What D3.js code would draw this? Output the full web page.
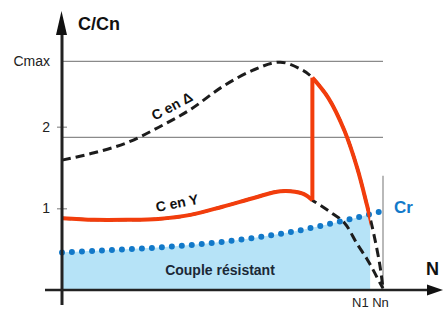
<!DOCTYPE html>
<html>
<head>
<meta charset="utf-8">
<script src="https://cdn.jsdelivr.net/npm/d3@7"></script>
<style>
  body { margin: 0; background: #fff; }
  svg { display: block; font-family: "Liberation Sans", Arial, sans-serif; }
</style>
</head>
<body>
<svg id="chart" width="445" height="311"></svg>
<script>
// speed is N / Nn, torque is C / Cn
const crSpeed = [0, 0.1, 0.2, 0.3, 0.4, 0.5, 0.6, 0.7, 0.8, 0.9, 1.0];
const crValues = [0.46, 0.48, 0.50, 0.52, 0.55, 0.59, 0.64, 0.70, 0.78, 0.87, 0.97];

const motorSpeed = [0, 0.1, 0.2, 0.3, 0.4, 0.5, 0.6, 0.68, 0.75, 0.78, 0.83, 0.88, 0.92, 0.95, 0.97, 0.99, 1.0];
const deltaValues = [1.59, 1.68, 1.80, 1.99, 2.21, 2.49, 2.70, 2.79, 2.69, 2.60, 2.35, 1.95, 1.49, 1.04, 0.71, 0.31, 0.02];
const starValues = [0.88, 0.86, 0.86, 0.87, 0.92, 1.02, 1.13, 1.21, 1.18, 1.10, 0.97, 0.82, 0.56, 0.38, 0.24, 0.09, 0.02];

const switchSpeed = 0.78;   // star -> delta
const n1Speed = 0.96;       // motor torque meets Cr
const cMax = 2.8;
const gridLevels = [cMax, 1.87];
const tickValues = [1, 2, cMax];
const tickLabels = ['1', '2', 'Cmax'];

const svg = d3.select('#chart');
const x = d3.scaleLinear().domain([0, 1]).range([62, 383]);
const y = d3.scaleLinear().domain([0, 3]).range([290, 45]);

const cr = crSpeed.map((s, i) => [s, crValues[i]]);
const delta = motorSpeed.map((s, i) => [s, deltaValues[i]]);
const star = motorSpeed.map((s, i) => [s, starValues[i]]);

const curve = d3.curveCatmullRom.alpha(0.5);
const line = d3.line().x(d => x(d[0])).y(d => y(d[1])).curve(curve);
const area = d3.area().x(d => x(d[0])).y0(y(0)).y1(d => y(d[1])).curve(curve);

svg.append('defs').append('clipPath').attr('id', 'n1clip')
  .append('rect').attr('x', 0).attr('y', 0).attr('width', x(n1Speed)).attr('height', 311);

// resisting torque area
svg.append('path').datum(cr)
  .attr('d', area)
  .attr('fill', '#b6e3f7')
  .attr('clip-path', 'url(#n1clip)');

// grid lines
svg.selectAll('.grid').data(gridLevels).join('line')
  .attr('x1', x(0)).attr('x2', x(1))
  .attr('y1', d => y(d)).attr('y2', d => y(d))
  .attr('stroke', '#8a8a8a').attr('stroke-width', 1.2);

svg.append('line')
  .attr('x1', x(1)).attr('x2', x(1))
  .attr('y1', y(1.4)).attr('y2', y(0))
  .attr('stroke', '#8a8a8a').attr('stroke-width', 1.2);

// y ticks
const yAxis = svg.append('g').attr('transform', `translate(${x(0)},0)`)
  .call(d3.axisLeft(y).tickValues(tickValues)
    .tickFormat((d, i) => tickLabels[i]).tickSize(5).tickPadding(7));
yAxis.select('.domain').remove();
yAxis.selectAll('.tick line').attr('x1', -5).attr('x2', 5).attr('stroke', '#777');
yAxis.selectAll('.tick').filter(d => d === cMax).select('line').remove();
yAxis.selectAll('text').attr('font-size', 14).attr('fill', '#222')
  .attr('font-family', '"Liberation Sans", Arial, sans-serif');

// motor curves (dashed)
const dash = svg.append('g').attr('fill', 'none').attr('stroke', '#1c1c1c')
  .attr('stroke-width', 3).attr('stroke-dasharray', '9,5');
dash.append('path').datum(delta).attr('d', line);
dash.append('path').datum(star).attr('d', line);

// resisting torque Cr (dotted)
svg.append('path').datum(cr)
  .attr('d', line)
  .attr('fill', 'none').attr('stroke', '#1279c9')
  .attr('stroke-width', 6).attr('stroke-linecap', 'round')
  .attr('stroke-dasharray', '0,10');

// star-delta start torque (red)
const red = svg.append('g').attr('fill', 'none').attr('stroke', '#f23d0c')
  .attr('stroke-width', 4).attr('stroke-linejoin', 'round');
red.append('path').datum(star.filter(d => d[0] <= switchSpeed)).attr('d', line);
const iSw = motorSpeed.indexOf(switchSpeed);
red.append('line')
  .attr('x1', x(switchSpeed)).attr('x2', x(switchSpeed))
  .attr('y1', y(starValues[iSw])).attr('y2', y(deltaValues[iSw]));
red.append('path').datum(delta.filter(d => d[0] >= switchSpeed))
  .attr('d', line).attr('clip-path', 'url(#n1clip)');

// axes
svg.append('line').attr('x1', x(0)).attr('x2', x(0)).attr('y1', 305).attr('y2', 30)
  .attr('stroke', '#222').attr('stroke-width', 3);
svg.append('path').attr('d', 'M61.5,11L56,35L67,35Z').attr('fill', '#111');
svg.append('line').attr('x1', 45).attr('x2', 430).attr('y1', y(0)).attr('y2', y(0))
  .attr('stroke', '#222').attr('stroke-width', 2.5);
svg.append('path').attr('d', 'M443,290L427,284.5L427,295.5Z').attr('fill', '#111');

// labels
svg.append('text').attr('x', 78).attr('y', 30).attr('font-size', 18)
  .attr('font-weight', 'bold').attr('fill', '#111').text('C/Cn');
svg.append('text').attr('x', 426).attr('y', 275).attr('font-size', 18)
  .attr('font-weight', 'bold').attr('fill', '#111').text('N');
svg.append('text').attr('x', 394).attr('y', 213).attr('font-size', 17)
  .attr('font-weight', 'bold').attr('fill', '#1279c9').text('Cr');
svg.append('text').attr('x', 352).attr('y', 307).attr('font-size', 13)
  .attr('fill', '#222').text('N1 Nn');
svg.append('text').attr('x', 220).attr('y', 275).attr('font-size', 14)
  .attr('text-anchor', 'middle').attr('font-weight', 'bold').attr('fill', '#1b2836')
  .text('Couple résistant');
svg.append('text').attr('transform', 'translate(172,106) rotate(-28)')
  .attr('dy', '0.35em').attr('text-anchor', 'middle').attr('font-size', 14)
  .attr('font-weight', 'bold').attr('fill', '#111').text('C en Δ');
svg.append('text').attr('transform', 'translate(177,203) rotate(-11)')
  .attr('dy', '0.35em').attr('text-anchor', 'middle').attr('font-size', 14)
  .attr('font-weight', 'bold').attr('fill', '#111').text('C en Y');
</script>
</body>
</html>
